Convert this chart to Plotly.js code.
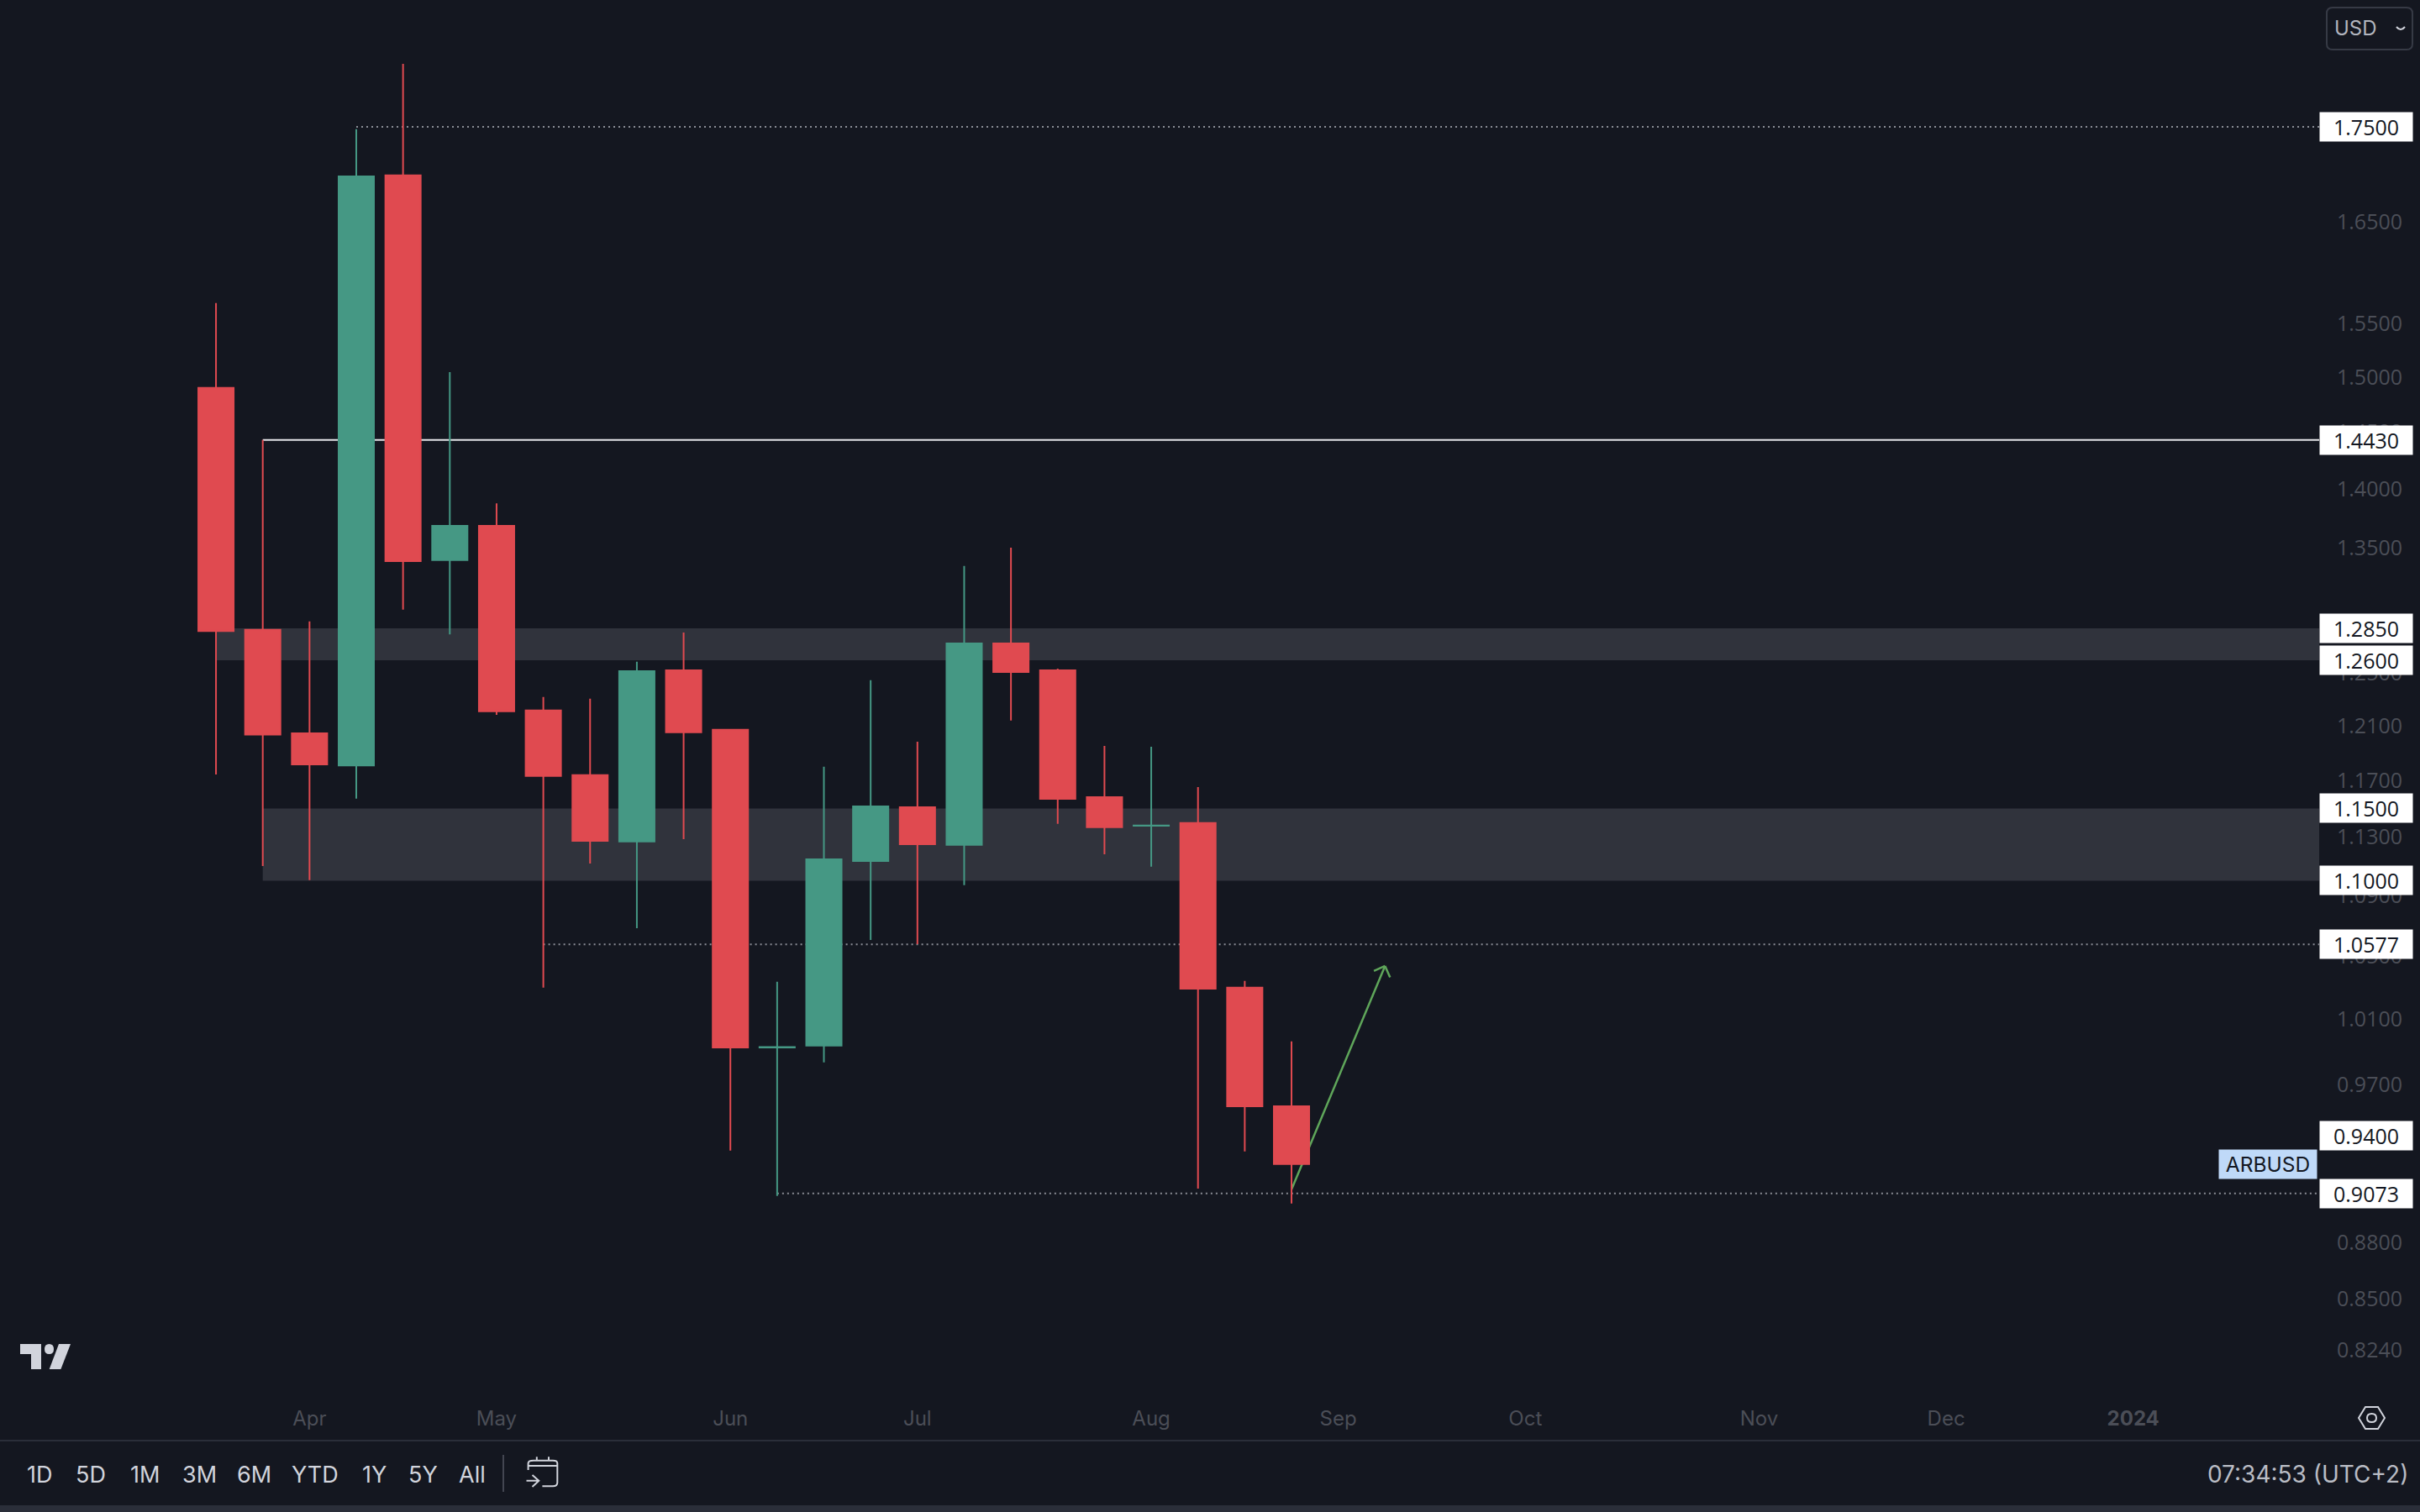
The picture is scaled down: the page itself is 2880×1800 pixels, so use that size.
<!DOCTYPE html>
<html>
<head>
<meta charset="utf-8">
<script src="https://cdn.plot.ly/plotly-3.0.1.min.js"></script>
<style>html,body{margin:0;padding:0;background:#141720;overflow:hidden}#chart{width:2880px;height:1800px}</style>
</head>
<body>
<div id="chart"></div>
<script>
// ---- data ----
const weeks = ["2023-03-20","2023-03-27","2023-04-03","2023-04-10","2023-04-17","2023-04-24","2023-05-01","2023-05-08",
  "2023-05-15","2023-05-22","2023-05-29","2023-06-05","2023-06-12","2023-06-19","2023-06-26","2023-07-03",
  "2023-07-10","2023-07-17","2023-07-24","2023-07-31","2023-08-07","2023-08-14","2023-08-21","2023-08-28"];
const opens  = [1.4900,1.2837,1.2044,1.1809,1.6985,1.3401,1.3687,1.2215,1.1738,1.1268,1.2522,1.2071,0.9926,0.9937,1.1134,1.1509,1.1246,1.2731,1.2522,1.1581,1.1378,1.1397,1.0298,0.9573];
const highs  = [1.5700,1.4430,1.2904,1.7475,1.8192,1.5046,1.3878,1.2317,1.2304,1.2588,1.2817,1.2071,1.0336,1.1800,1.2445,1.1983,1.3352,1.3504,1.2535,1.1952,1.1946,1.1653,1.0341,0.9963];
const lows   = [1.1744,1.1100,1.1003,1.1570,1.2999,1.2802,1.2183,1.0298,1.1117,1.0683,1.1285,0.9315,0.9058,0.9835,1.0606,1.0578,1.0970,1.2140,1.1392,1.1180,1.1095,0.9100,0.9310,0.9016];
const closes = [1.2828,1.2036,1.1817,1.6974,1.3392,1.3687,1.2209,1.1732,1.1273,1.2515,1.2052,0.9926,0.9928,1.1146,1.1515,1.1250,1.2731,1.2509,1.1569,1.1368,1.1380,1.0292,0.9573,0.9238];

const priceTicks = [1.65,1.55,1.5,1.45,1.4,1.35,1.25,1.21,1.17,1.13,1.09,1.05,1.01,0.97,0.88,0.85,0.824];
const timeTickDates = ["2023-04-03","2023-05-01","2023-06-05","2023-07-03","2023-08-07","2023-09-04","2023-10-02","2023-11-06","2023-12-04","2024-01-01"];
const timeTickLabels = ["Apr","May","Jun","Jul","Aug","Sep","Oct","Nov","Dec","<b>2024</b>"];

const tagLevels = [1.75,1.443,1.285,1.26,1.15,1.10,1.0577,0.94,0.9073];
const zoneTop    = [1.285,1.15];
const zoneBottom = [1.26,1.10];
const zoneStart  = ["2023-03-20","2023-03-27"];
const dottedLevels = [1.75,1.0577,0.9073];
const dottedStart  = ["2023-04-10","2023-05-08","2023-06-12"];
const solidLevel = 1.443, solidStart = "2023-03-27";
const arrowDates  = ["2023-08-28","2023-09-11"];
const arrowPrices = [0.9095,1.0437];
const arrowHeadDates  = ["2023-09-09 08:00","2023-09-11 18:00"];
const arrowHeadPrices = [1.0405,1.0364];
const rangeButtons = ["1D","5D","1M","3M","6M","YTD","1Y","5Y","All"];
const rangeButtonX = [47,108,172,237,302,375,445,503,562];

// ---- style ----
const W=2880,H=1800,PW=2760,PH=1660;
const BG="#141720", RED="#E04A50", GREEN="#459884", AXIS="#4B4E57", UI="#D1D4DC", FONT="Inter, 'Noto Sans', sans-serif", NUM="'Open Sans', Inter, sans-serif";
const px=x=>x/PW, py=y=>1-y/PH;
function path(s){ // pixel-space path → paper-space path
  return s.trim().split(/\s+/).map(t=>{
    if(/^[A-Za-z]$/.test(t)) return t;
    const [a,b]=t.split(',').map(Number); return px(a)+','+py(b);
  }).join(' ');
}
const paperShape=(d,o)=>Object.assign({type:'path',xref:'paper',yref:'paper',path:path(d),layer:'above'},o);
const rectPx=(x0,y0,x1,y1,fill)=>({type:'rect',xref:'paper',yref:'paper',x0:px(x0),x1:px(x1),y0:py(y0),y1:py(y1),fillcolor:fill,line:{width:0},layer:'above'});

const shapes=[];
zoneTop.forEach((t,i)=>shapes.push({type:'rect',layer:'below',xref:'x',yref:'y',x0:zoneStart[i],y0:zoneBottom[i],y1:t,
  x1:"2024-01-28 20:00",fillcolor:"#30333C",line:{width:0}}));
dottedLevels.forEach((v,i)=>shapes.push({type:'line',layer:'below',xref:'x',yref:'y',x0:dottedStart[i],x1:"2024-01-28 20:00",y0:v,y1:v,
  line:{color:"#8A8D95",width:2,dash:"2px,4px"}}));
shapes.push({type:'line',layer:'below',xref:'x',yref:'y',x0:solidStart,x1:"2024-01-28 20:00",y0:solidLevel,y1:solidLevel,line:{color:"#E6E7EA",width:2}});
const arrowLine={color:"#5FA65A",width:2.5};
shapes.push({type:'line',layer:'below',xref:'x',yref:'y',x0:arrowDates[0],x1:arrowDates[1],y0:arrowPrices[0],y1:arrowPrices[1],line:arrowLine});
arrowHeadDates.forEach((d,i)=>shapes.push({type:'line',layer:'below',xref:'x',yref:'y',x0:d,x1:arrowDates[1],y0:arrowHeadPrices[i],y1:arrowPrices[1],line:arrowLine}));

// toolbar chrome
shapes.push(rectPx(0,1714,W,1716,"#2A2E39"));
shapes.push(rectPx(0,1792,W,1800,"#2A2E39"));
shapes.push(rectPx(598,1732,600,1776,"#434651"));
// USD button
shapes.push(paperShape("M 2776,9 L 2864,9 Q 2871,9 2871,16 L 2871,52 Q 2871,59 2864,59 L 2776,59 Q 2769,59 2769,52 L 2769,16 Q 2769,9 2776,9 Z",{line:{color:"#363A45",width:2}}));
shapes.push(paperShape("M 2852,32 Q 2857,38 2862,32",{line:{color:UI,width:2}}));
// TradingView logo
shapes.push(paperShape("M 24,1600 L 49,1600 L 49,1630 L 37,1630 L 37,1612 L 24,1612 Z",{fillcolor:UI,line:{width:0}}));
shapes.push(paperShape("M 70,1600 L 84,1600 L 72.4,1630 L 58.7,1630 Z",{fillcolor:UI,line:{width:0}}));
shapes.push(paperShape("M 53,1606 Q 53,1600 58.5,1600 Q 64,1600 64,1606 Q 64,1612 58.5,1612 Q 53,1612 53,1606 Z",{fillcolor:UI,line:{width:0}}));
// settings icon
shapes.push(paperShape("M 2807,1688 L 2815,1675 L 2830,1675 L 2838,1688 L 2830,1701 L 2815,1701 Z",{line:{color:UI,width:2}}));
shapes.push(paperShape("M 2817,1688 Q 2817,1683 2822.5,1683 Q 2828,1683 2828,1688 Q 2828,1693 2822.5,1693 Q 2817,1693 2817,1688 Z",{line:{color:UI,width:2}}));
// calendar icon
shapes.push(paperShape("M 628.6,1750 L 628.6,1742 Q 628.6,1738.7 635,1738.7 L 658,1738.7 Q 663.3,1738.7 663.3,1742 L 663.3,1765 Q 663.3,1769.3 658,1769.3 L 645.4,1769.3",{line:{color:UI,width:2}}));
shapes.push(paperShape("M 628.6,1745 L 663.3,1745",{line:{color:UI,width:2}}));
shapes.push(paperShape("M 638.8,1734.3 L 638.8,1738.7",{line:{color:UI,width:2}}));
shapes.push(paperShape("M 653,1734.3 L 653,1738.7",{line:{color:UI,width:2}}));
shapes.push(paperShape("M 626.5,1762.7 L 641.3,1762.7 M 633.5,1756 L 641.3,1762.7 L 633.5,1770",{line:{color:UI,width:2}}));

const annotations=[];
tagLevels.forEach(v=>annotations.push({xref:'paper',yref:'y',x:1,y:Math.log10(v),xanchor:'left',yanchor:'middle',showarrow:false,
  text:v.toFixed(4),width:110,height:34,borderpad:0,bgcolor:"#FFFFFF",font:{family:NUM,size:25,color:"#131722"},align:'center'}));
annotations.push({xref:'paper',yref:'y',x:px(2758),y:Math.log10(closes[closes.length-1]),xanchor:'right',yanchor:'middle',showarrow:false,
  text:"ARBUSD",width:116,height:34,borderpad:0,bgcolor:"#BFD9F8",font:{family:FONT,size:24.5,color:"#131722"},align:'center'});
annotations.push({xref:'paper',yref:'paper',x:px(2776),y:py(33),xanchor:'left',yanchor:'middle',showarrow:false,text:"USD",font:{family:FONT,size:24,color:"#B2B5BE"}});
rangeButtons.forEach((t,i)=>annotations.push({xref:'paper',yref:'paper',x:px(rangeButtonX[i]),y:py(1755),xanchor:'center',yanchor:'middle',showarrow:false,
  text:t,font:{family:FONT,size:27,color:UI}}));
annotations.push({xref:'paper',yref:'paper',x:px(2868),y:py(1755),xanchor:'right',yanchor:'middle',showarrow:false,text:"07:34:53 (UTC+2)",font:{family:FONT,size:28,color:"#B9BCC4"}});

const trace={type:'candlestick',x:weeks,open:opens,high:highs,low:lows,close:closes,whiskerwidth:0,
  increasing:{line:{color:GREEN,width:2},fillcolor:GREEN},decreasing:{line:{color:RED,width:2},fillcolor:RED},showlegend:false,hoverinfo:'skip'};

const layout={width:W,height:H,paper_bgcolor:BG,plot_bgcolor:BG,showlegend:false,boxgap:0.245,boxgroupgap:0,dragmode:false,
  margin:{l:0,r:W-PW,t:0,b:H-PH,pad:0},
  xaxis:{type:'date',range:["2023-02-15 16:00","2024-01-28 20:00"],rangeslider:{visible:false},showgrid:false,zeroline:false,showline:false,
    tickmode:'array',tickvals:timeTickDates,ticktext:timeTickLabels,ticks:'outside',ticklen:7,tickcolor:'rgba(0,0,0,0)',
    tickfont:{family:FONT,size:24,color:AXIS},automargin:false,fixedrange:true},
  yaxis:{type:'log',side:'right',range:[-0.09603,0.27695],autorange:false,showgrid:false,zeroline:false,showline:false,
    tickmode:'array',tickvals:priceTicks,ticktext:priceTicks.map(v=>v.toFixed(4)),ticks:'outside',ticklen:15,tickcolor:'rgba(0,0,0,0)',
    tickfont:{family:NUM,size:25,color:AXIS},automargin:false,fixedrange:true},
  shapes,annotations};
Plotly.newPlot('chart',[trace],layout,{displayModeBar:false,responsive:false});
</script>
</body>
</html>
